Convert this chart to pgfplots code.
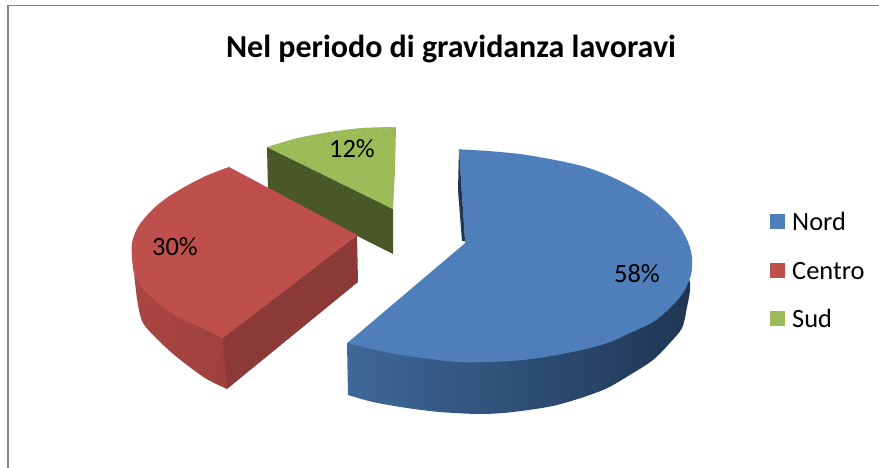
\documentclass[border=0pt]{standalone}
\usepackage{pgfplots}
\pgfplotsset{compat=1.18}
\usepackage{fontspec}
\setmainfont{Carlito}
\definecolor{bl}{HTML}{4F7FBA}
\definecolor{rd}{HTML}{BE4F4C}
\definecolor{gr}{HTML}{9BBB59}
\definecolor{grside}{HTML}{4A5726}
\definecolor{rdsideA}{HTML}{A84643}
\definecolor{rdsideB}{HTML}{9E413E}
\definecolor{rdface}{HTML}{8C3A37}
\definecolor{blsideA}{HTML}{3F6899}
\definecolor{blsideB}{HTML}{1F3552}
\begin{document}
\begin{tikzpicture}
\begin{axis}[
  scale only axis, width=879pt, height=468pt,
  xmin=0, xmax=879, ymin=0, ymax=468, y dir=reverse,
  hide axis, clip=true,
  every axis plot/.append style={no markers, draw=none, line width=0pt},
]
% frame
\addplot[fill=white] coordinates {(0,0)(879,0)(879,468)(0,468)} -- cycle;
\addplot[draw={rgb,255:red,136;green,136;blue,136}, line width=1.8pt] coordinates {(8,468)(8,5.5)(879,5.5)};

% Sud (12%)
\addplot[fill=grside] coordinates {(267,147)(393,209)(393,254)(268,191)} -- cycle;
\addplot[fill=gr, smooth] coordinates {(396,127)(362,128)(330,132)(298,138)(267,147)} -- cycle;
\addplot[fill=gr] coordinates {(396,127)(395,170)(393,209)(267,147)(330,137)} -- cycle;

% Centro (30%)
\addplot[left color=rdsideA, right color=rdsideB, smooth] coordinates {(227,389)(205,378)(178,358)(158,340)(143,323)(138,305)(135,282)(134.5,272)(140,265)(150,270)(180,295)(235,330)} -- cycle;
\addplot[fill=rdface] coordinates {(222.5,338)(357,235)(358,282)(227,389)} -- cycle;
\addplot[fill=rd, smooth] coordinates {(229,167)(208,175)(188,185)(168,197)(152,210)(138,227)(132,243)(132,257)(134,273)(142,288)(158,303)(178,317)(202,328)(223,338)} -- cycle;
\addplot[fill=rd] coordinates {(229,167)(357,235)(223,338)(190,250)} -- cycle;

% Nord (58%)
\addplot[left color=blsideA, right color=blsideB, smooth] coordinates {(348,395)(373,402)(407,408)(440,412)(480,414)(513,412)(557,405)(603,390)(633,373)(653,360)(668,345)(682,328)(687,307)(690,290)(688,279)(670,285)(500,335)(400,345)(347,343)} -- cycle;
\addplot[fill=bl, smooth] coordinates {(459,149.3)(488,151)(522,154.3)(555,160)(582,166)(605,174)(630,186)(650,198)(667,212)(680,227)(688,242)(692,257)(691,275)(683,293)(670,308)(653,322)(630,333)(610,342)(590,348)(557,355)(523,360)(490,362)(457,362)(423,358)(390,353)(347,343)} -- cycle;
\addplot[fill=white] coordinates {(459,149.3)(465,243)(347,343)(400,240)} -- cycle;
\addplot[fill=blsideB] coordinates {(459,149)(458,190)(462,241)(465,241)} -- cycle;

% legend keys
\addplot[fill=bl] coordinates {(770,214)(785,214)(785,229)(770,229)} -- cycle;
\addplot[fill=rd] coordinates {(770,263)(785,263)(785,278)(770,278)} -- cycle;
\addplot[fill=gr] coordinates {(770,311)(785,311)(785,326)(770,326)} -- cycle;

% texts
\node[anchor=base, font=\fontsize{32}{36}\selectfont\bfseries, inner sep=0pt] at (axis cs:451,58) {Nel periodo di gravidanza lavoravi};
\node[anchor=base west, font=\fontsize{26.4}{30}\selectfont, inner sep=0pt] at (axis cs:614,282) {58\%};
\node[anchor=base west, font=\fontsize{26.4}{30}\selectfont, inner sep=0pt] at (axis cs:152,255) {30\%};
\node[anchor=base west, font=\fontsize{26.4}{30}\selectfont, inner sep=0pt] at (axis cs:329,158) {12\%};
\node[anchor=base west, font=\fontsize{26.4}{30}\selectfont, inner sep=0pt] at (axis cs:792,230) {Nord};
\node[anchor=base west, font=\fontsize{26.4}{30}\selectfont, inner sep=0pt] at (axis cs:792,279) {Centro};
\node[anchor=base west, font=\fontsize{26.4}{30}\selectfont, inner sep=0pt] at (axis cs:792,327) {Sud};
\end{axis}
\end{tikzpicture}
\end{document}
